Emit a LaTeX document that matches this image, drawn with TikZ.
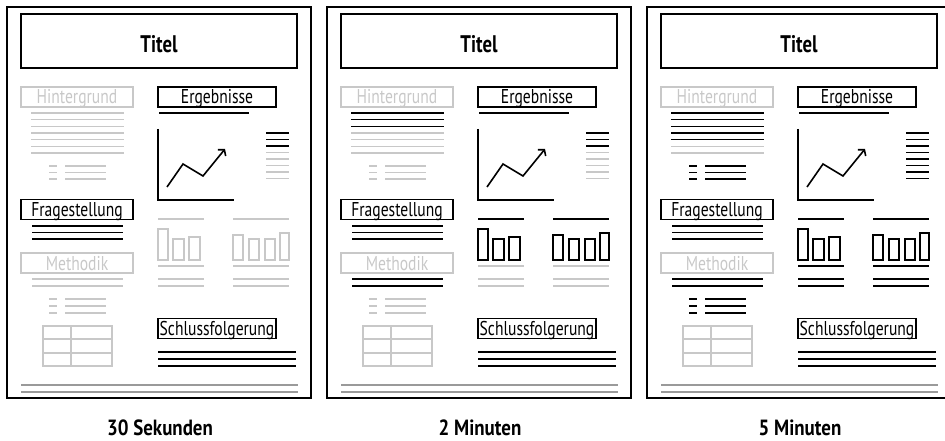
\documentclass[tikz,border=0pt]{standalone}
\usepackage{fontspec}
\setmainfont{PT Sans}[FakeStretch=0.78]
\newfontfamily\capfont{PT Sans}[FakeStretch=0.86]
\usetikzlibrary{arrows.meta}
\definecolor{faint}{HTML}{C8C8C8}
\definecolor{rule}{HTML}{9A9A9A}

\begin{document}
\begin{tikzpicture}[x=1pt,y=-1pt,
  line width=1.6pt,
  sheet/.style={draw, line width=2pt},
  headbox/.style={draw, line width=1.8pt, minimum width=276pt, minimum height=54pt},
  box/.style={draw, line width=1.6pt, inner sep=0pt, minimum height=20pt,
    text height=16pt, text depth=2pt, font=\fontsize{20}{20}\selectfont},
  headtext/.style={anchor=base, font=\bfseries\fontsize{24}{24}\selectfont},
  caption/.style={anchor=base, font=\capfont\bfseries\fontsize{22}{22}\selectfont}
]
\useasboundingbox (0,0) rectangle (945,441);
\foreach \p/\dx/\when/\nh/\nr/\lsta/\meth/\lstb/\bars/\barlow in {
  1/0/30 Sekunden/0/3/faint/faint/faint/faint/faint,
  2/320/2 Minuten/3/3/faint/black/faint/black/faint,
  3/640/5 Minuten/5/8/black/black/black/black/black}{
\begin{scope}[xshift=\dx pt]
\draw[sheet] (7,7) rectangle (311,398);
\node[headbox] (head\p) at (159,41) {};
\node[headtext] (titel\p) at (159,53) {Titel};

\node[box, faint, minimum width=112pt] (hint\p) at (77,97) {Hintergrund};
\foreach \k in {0,...,6}{
  \ifnum\k<\nh\relax\def\lncol{black}\else\def\lncol{faint}\fi
  \draw[\lncol] (31,{113+6.67*\k}) -- (124,{113+6.67*\k});
}
\foreach \k in {0,1,2}
  \draw[\lsta] (49,{166+6.5*\k}) -- (57,{166+6.5*\k}) (65,{166+6.5*\k}) -- (106,{166+6.5*\k});

\node[box, minimum width=118pt] (erg\p) at (217,97) {Ergebnisse};
\draw (159,113) -- (249,113);
\draw (158,129) -- (158,200) -- (234,200);
\draw[-{Straight Barb[length=4pt,width=10pt]}] (167,187) -- (183,164) -- (203,176) -- (225,149);
\foreach \k in {0,...,7}{
  \ifnum\k<\nr\relax\def\lncol{black}\else\def\lncol{faint}\fi
  \draw[\lncol] (266,{133+6.5*\k}) -- (289,{133+6.5*\k});
}

\node[box, minimum width=112pt] (frage\p) at (77,209.5) {Fragestellung};
\foreach \k in {0,1,2}
  \draw (32,{226+6.5*\k}) -- (123,{226+6.5*\k});

\node[box, faint, minimum width=112pt] (meth\p) at (77,263) {Methodik};
\foreach \yy in {279,286}
  \draw[\meth] (32,\yy) -- (123,\yy);
\foreach \k in {0,1,2}
  \draw[\lstb] (49,{299+7*\k}) -- (57,{299+7*\k}) (65,{299+7*\k}) -- (106,{299+7*\k});
\draw[faint] (43,326) rectangle (112,366) (71,326) -- (71,366)
  (43,339) -- (112,339) (43,353) -- (112,353);

\draw[\bars] (158,219) -- (204,219) (233,219) -- (289,219);
\draw[\bars] (158,229) rectangle (168,260) (173,239) rectangle (184,260)
  (189,237) rectangle (200,260) (233,235) rectangle (243,260)
  (249,239) rectangle (259,260) (265,239) rectangle (275,260)
  (280,233) rectangle (289,260);
\foreach \yy in {266,279,286}
  \draw[\barlow] (158,\yy) -- (204,\yy) (233,\yy) -- (289,\yy);

\node[box, minimum width=118pt] (schluss\p) at (217,328.5) {Schlussfolgerung};
\foreach \yy in {352,359,366}
  \draw (158,\yy) -- (296,\yy);
\draw[rule] (21,385) -- (298,385) (21,392) -- (298,392);

\node[caption] (when\p) at (160,435) {\when};
\end{scope}
}
\end{tikzpicture}
\end{document}
